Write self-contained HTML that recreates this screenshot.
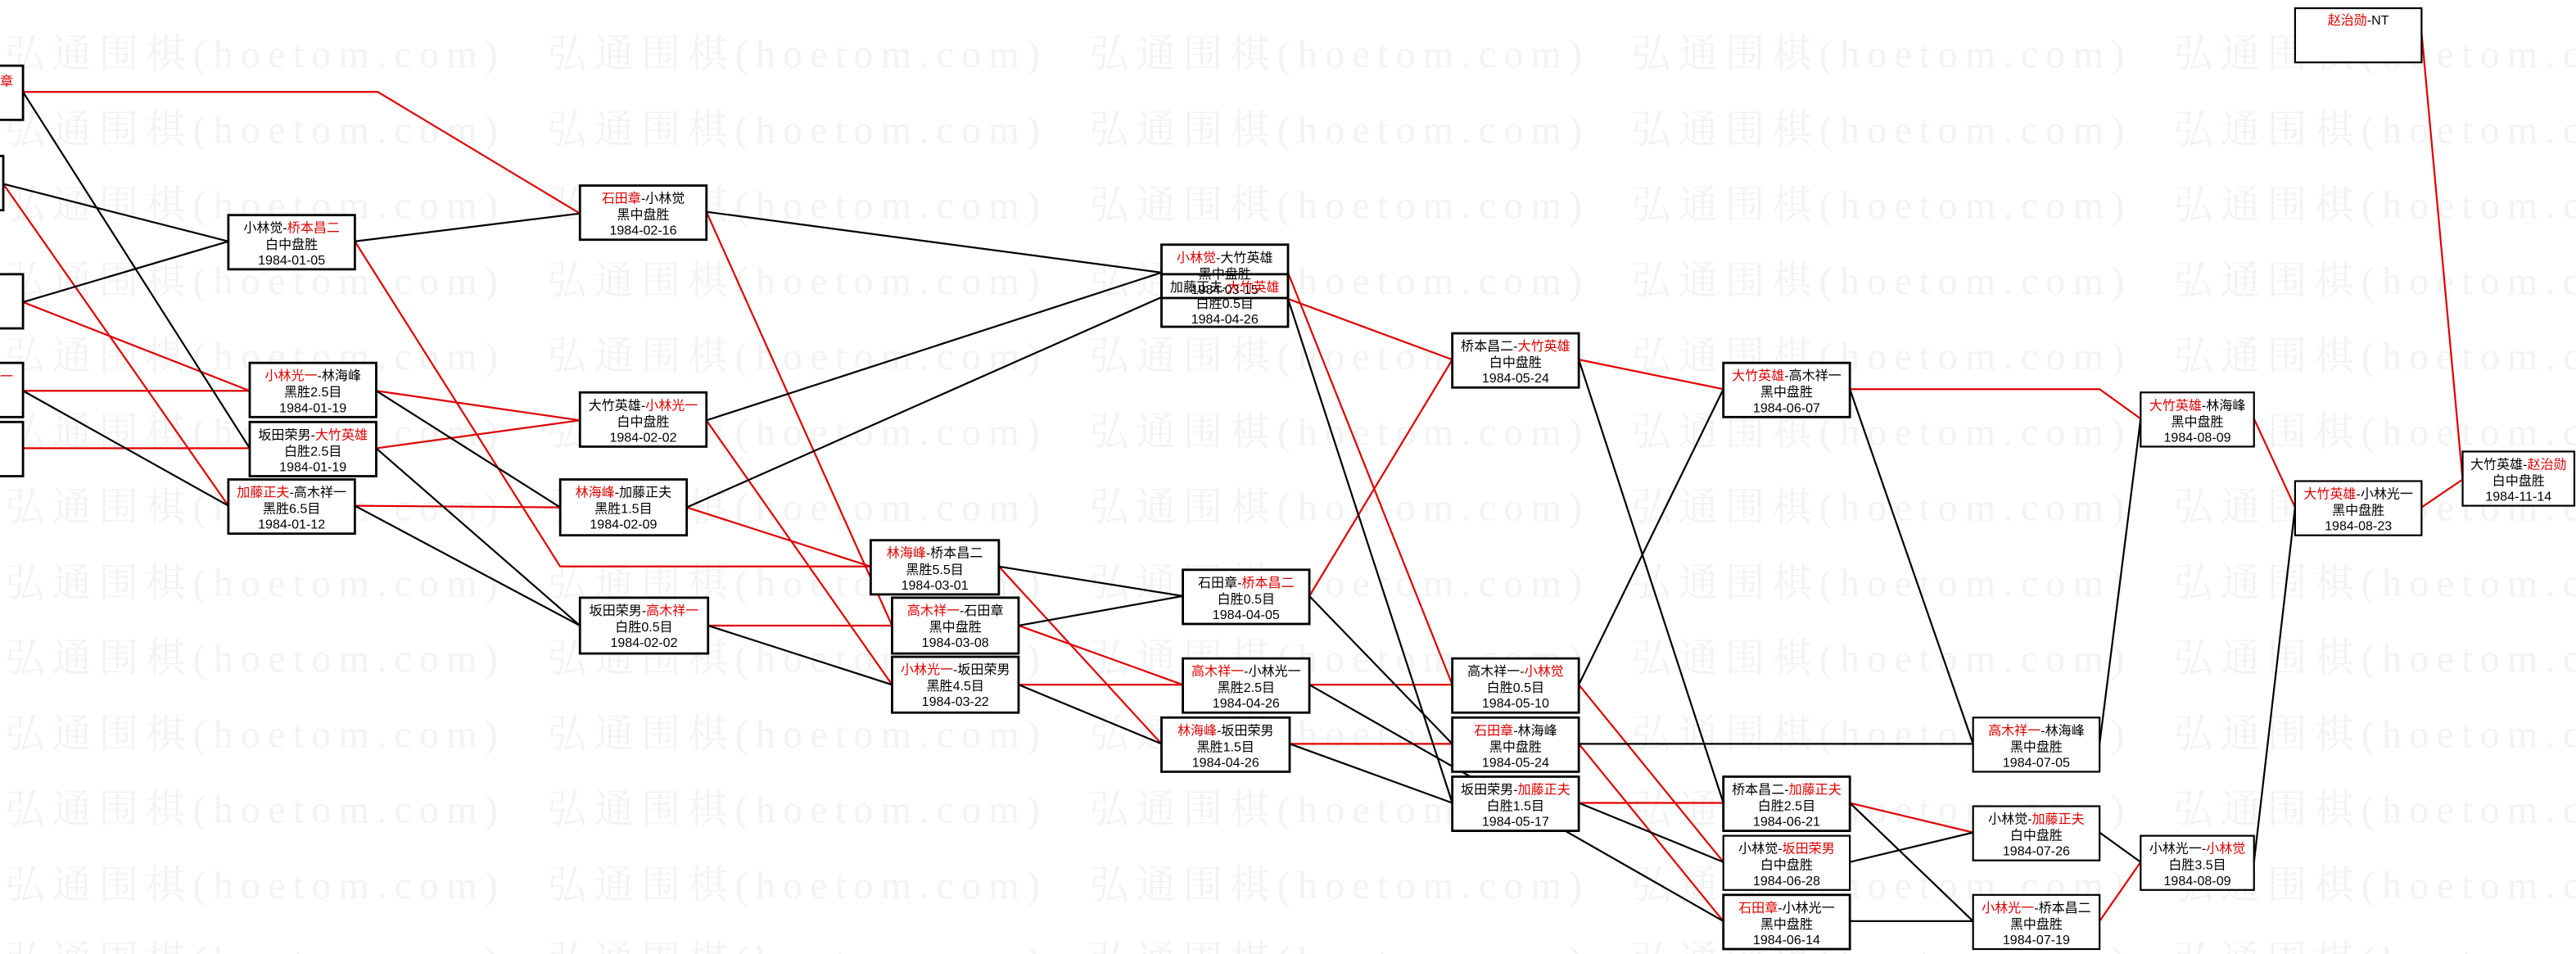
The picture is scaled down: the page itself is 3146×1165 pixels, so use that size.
<!DOCTYPE html>
<html><head><meta charset="utf-8"><style>
html,body{margin:0;padding:0;background:#fff;}
svg{display:block}
.w{font-family:"Liberation Serif","Noto Serif CJK SC",serif;font-size:24px;fill:#f3f3f3}
.t{font-family:"Liberation Sans","Noto Sans CJK SC",sans-serif;font-size:8px;fill:#000;text-anchor:middle}
.r{fill:#e00000}
.b{fill:#fff;stroke:#000;stroke-width:1.4}
.bn{fill:none;stroke:#000;stroke-width:1.4}
.lr{stroke:#e00000;stroke-width:1.1;fill:none}
.lb{stroke:#000;stroke-width:1.1;fill:none}
</style></head><body>
<svg width="3146" height="1165" viewBox="0 0 1568 581" preserveAspectRatio="none" xmlns="http://www.w3.org/2000/svg">
<rect x="0" y="0" width="1568" height="581" fill="#fff"/>
<g class="w">
<text x="3" y="41" textLength="300" lengthAdjust="spacing">弘通围棋(hoetom.com)</text><text x="333" y="41" textLength="300" lengthAdjust="spacing">弘通围棋(hoetom.com)</text><text x="663" y="41" textLength="300" lengthAdjust="spacing">弘通围棋(hoetom.com)</text><text x="993" y="41" textLength="300" lengthAdjust="spacing">弘通围棋(hoetom.com)</text><text x="1323" y="41" textLength="300" lengthAdjust="spacing">弘通围棋(hoetom.com)</text>
<text x="3" y="87" textLength="300" lengthAdjust="spacing">弘通围棋(hoetom.com)</text><text x="333" y="87" textLength="300" lengthAdjust="spacing">弘通围棋(hoetom.com)</text><text x="663" y="87" textLength="300" lengthAdjust="spacing">弘通围棋(hoetom.com)</text><text x="993" y="87" textLength="300" lengthAdjust="spacing">弘通围棋(hoetom.com)</text><text x="1323" y="87" textLength="300" lengthAdjust="spacing">弘通围棋(hoetom.com)</text>
<text x="3" y="133" textLength="300" lengthAdjust="spacing">弘通围棋(hoetom.com)</text><text x="333" y="133" textLength="300" lengthAdjust="spacing">弘通围棋(hoetom.com)</text><text x="663" y="133" textLength="300" lengthAdjust="spacing">弘通围棋(hoetom.com)</text><text x="993" y="133" textLength="300" lengthAdjust="spacing">弘通围棋(hoetom.com)</text><text x="1323" y="133" textLength="300" lengthAdjust="spacing">弘通围棋(hoetom.com)</text>
<text x="3" y="179" textLength="300" lengthAdjust="spacing">弘通围棋(hoetom.com)</text><text x="333" y="179" textLength="300" lengthAdjust="spacing">弘通围棋(hoetom.com)</text><text x="663" y="179" textLength="300" lengthAdjust="spacing">弘通围棋(hoetom.com)</text><text x="993" y="179" textLength="300" lengthAdjust="spacing">弘通围棋(hoetom.com)</text><text x="1323" y="179" textLength="300" lengthAdjust="spacing">弘通围棋(hoetom.com)</text>
<text x="3" y="225" textLength="300" lengthAdjust="spacing">弘通围棋(hoetom.com)</text><text x="333" y="225" textLength="300" lengthAdjust="spacing">弘通围棋(hoetom.com)</text><text x="663" y="225" textLength="300" lengthAdjust="spacing">弘通围棋(hoetom.com)</text><text x="993" y="225" textLength="300" lengthAdjust="spacing">弘通围棋(hoetom.com)</text><text x="1323" y="225" textLength="300" lengthAdjust="spacing">弘通围棋(hoetom.com)</text>
<text x="3" y="271" textLength="300" lengthAdjust="spacing">弘通围棋(hoetom.com)</text><text x="333" y="271" textLength="300" lengthAdjust="spacing">弘通围棋(hoetom.com)</text><text x="663" y="271" textLength="300" lengthAdjust="spacing">弘通围棋(hoetom.com)</text><text x="993" y="271" textLength="300" lengthAdjust="spacing">弘通围棋(hoetom.com)</text><text x="1323" y="271" textLength="300" lengthAdjust="spacing">弘通围棋(hoetom.com)</text>
<text x="3" y="317" textLength="300" lengthAdjust="spacing">弘通围棋(hoetom.com)</text><text x="333" y="317" textLength="300" lengthAdjust="spacing">弘通围棋(hoetom.com)</text><text x="663" y="317" textLength="300" lengthAdjust="spacing">弘通围棋(hoetom.com)</text><text x="993" y="317" textLength="300" lengthAdjust="spacing">弘通围棋(hoetom.com)</text><text x="1323" y="317" textLength="300" lengthAdjust="spacing">弘通围棋(hoetom.com)</text>
<text x="3" y="363" textLength="300" lengthAdjust="spacing">弘通围棋(hoetom.com)</text><text x="333" y="363" textLength="300" lengthAdjust="spacing">弘通围棋(hoetom.com)</text><text x="663" y="363" textLength="300" lengthAdjust="spacing">弘通围棋(hoetom.com)</text><text x="993" y="363" textLength="300" lengthAdjust="spacing">弘通围棋(hoetom.com)</text><text x="1323" y="363" textLength="300" lengthAdjust="spacing">弘通围棋(hoetom.com)</text>
<text x="3" y="409" textLength="300" lengthAdjust="spacing">弘通围棋(hoetom.com)</text><text x="333" y="409" textLength="300" lengthAdjust="spacing">弘通围棋(hoetom.com)</text><text x="663" y="409" textLength="300" lengthAdjust="spacing">弘通围棋(hoetom.com)</text><text x="993" y="409" textLength="300" lengthAdjust="spacing">弘通围棋(hoetom.com)</text><text x="1323" y="409" textLength="300" lengthAdjust="spacing">弘通围棋(hoetom.com)</text>
<text x="3" y="455" textLength="300" lengthAdjust="spacing">弘通围棋(hoetom.com)</text><text x="333" y="455" textLength="300" lengthAdjust="spacing">弘通围棋(hoetom.com)</text><text x="663" y="455" textLength="300" lengthAdjust="spacing">弘通围棋(hoetom.com)</text><text x="993" y="455" textLength="300" lengthAdjust="spacing">弘通围棋(hoetom.com)</text><text x="1323" y="455" textLength="300" lengthAdjust="spacing">弘通围棋(hoetom.com)</text>
<text x="3" y="501" textLength="300" lengthAdjust="spacing">弘通围棋(hoetom.com)</text><text x="333" y="501" textLength="300" lengthAdjust="spacing">弘通围棋(hoetom.com)</text><text x="663" y="501" textLength="300" lengthAdjust="spacing">弘通围棋(hoetom.com)</text><text x="993" y="501" textLength="300" lengthAdjust="spacing">弘通围棋(hoetom.com)</text><text x="1323" y="501" textLength="300" lengthAdjust="spacing">弘通围棋(hoetom.com)</text>
<text x="3" y="547" textLength="300" lengthAdjust="spacing">弘通围棋(hoetom.com)</text><text x="333" y="547" textLength="300" lengthAdjust="spacing">弘通围棋(hoetom.com)</text><text x="663" y="547" textLength="300" lengthAdjust="spacing">弘通围棋(hoetom.com)</text><text x="993" y="547" textLength="300" lengthAdjust="spacing">弘通围棋(hoetom.com)</text><text x="1323" y="547" textLength="300" lengthAdjust="spacing">弘通围棋(hoetom.com)</text>
<text x="3" y="593" textLength="300" lengthAdjust="spacing">弘通围棋(hoetom.com)</text><text x="333" y="593" textLength="300" lengthAdjust="spacing">弘通围棋(hoetom.com)</text><text x="663" y="593" textLength="300" lengthAdjust="spacing">弘通围棋(hoetom.com)</text><text x="993" y="593" textLength="300" lengthAdjust="spacing">弘通围棋(hoetom.com)</text><text x="1323" y="593" textLength="300" lengthAdjust="spacing">弘通围棋(hoetom.com)</text>
</g>
<g class="lr">
<polyline points="14,56 230,56 353,130"/>
<line x1="2" y1="112" x2="139" y2="308"/>
<line x1="14" y1="184" x2="152" y2="238"/>
<line x1="14" y1="238" x2="152" y2="238"/>
<line x1="14" y1="273" x2="152" y2="273"/>
<polyline points="216,147 341,345 530,345"/>
<line x1="229" y1="238" x2="353" y2="256"/>
<line x1="229" y1="273" x2="353" y2="256"/>
<line x1="216" y1="308" x2="341" y2="309"/>
<line x1="430" y1="129" x2="543" y2="381"/>
<line x1="430" y1="256" x2="543" y2="417"/>
<line x1="418" y1="309" x2="530" y2="345"/>
<line x1="431" y1="381" x2="543" y2="381"/>
<line x1="608" y1="345" x2="707" y2="453"/>
<line x1="620" y1="381" x2="720" y2="417"/>
<line x1="620" y1="417" x2="720" y2="417"/>
<line x1="784" y1="182" x2="884" y2="219"/>
<line x1="784" y1="166" x2="884" y2="417"/>
<line x1="797" y1="363" x2="884" y2="219"/>
<line x1="797" y1="417" x2="884" y2="417"/>
<line x1="785" y1="453" x2="884" y2="453"/>
<line x1="961" y1="219" x2="1049" y2="237"/>
<line x1="961" y1="417" x2="1049" y2="525"/>
<line x1="961" y1="453" x2="1049" y2="561"/>
<line x1="961" y1="489" x2="1049" y2="489"/>
<polyline points="1126,237 1278,237 1303,255"/>
<line x1="1126" y1="489" x2="1201" y2="507"/>
<line x1="1278" y1="561" x2="1303" y2="525"/>
<line x1="1372" y1="255" x2="1397" y2="309"/>
<line x1="1474" y1="309" x2="1499" y2="292"/>
<line x1="1474" y1="20" x2="1499" y2="292"/>
</g>
<g class="lb">
<line x1="14" y1="56" x2="152" y2="273"/>
<line x1="2" y1="112" x2="139" y2="147"/>
<line x1="14" y1="184" x2="139" y2="147"/>
<line x1="14" y1="238" x2="139" y2="308"/>
<line x1="216" y1="147" x2="353" y2="130"/>
<line x1="229" y1="238" x2="341" y2="309"/>
<line x1="229" y1="273" x2="353" y2="381"/>
<line x1="216" y1="308" x2="353" y2="381"/>
<line x1="430" y1="129" x2="707" y2="166"/>
<line x1="430" y1="256" x2="707" y2="166"/>
<polyline points="418,309 707,181 784,166"/>
<line x1="431" y1="381" x2="543" y2="417"/>
<line x1="608" y1="345" x2="720" y2="363"/>
<line x1="620" y1="381" x2="720" y2="363"/>
<line x1="620" y1="417" x2="707" y2="453"/>
<line x1="784" y1="182" x2="884" y2="489"/>
<line x1="797" y1="363" x2="884" y2="453"/>
<line x1="797" y1="417" x2="1049" y2="561"/>
<line x1="785" y1="453" x2="884" y2="489"/>
<line x1="961" y1="219" x2="1049" y2="489"/>
<line x1="961" y1="417" x2="1049" y2="237"/>
<line x1="961" y1="453" x2="1201" y2="453"/>
<line x1="961" y1="489" x2="1049" y2="525"/>
<line x1="1126" y1="237" x2="1201" y2="453"/>
<line x1="1126" y1="489" x2="1201" y2="561"/>
<line x1="1126" y1="525" x2="1201" y2="507"/>
<line x1="1126" y1="561" x2="1201" y2="561"/>
<line x1="1278" y1="453" x2="1303" y2="255"/>
<line x1="1278" y1="507" x2="1303" y2="525"/>
<line x1="1372" y1="525" x2="1397" y2="309"/>
</g>
<rect class="b" x="-60" y="40" width="74" height="33"/><text class="t r" x="8" y="52" style="text-anchor:end">石田章</text>
<rect class="b" x="-70" y="95" width="72" height="33"/>
<rect class="b" x="-60" y="167" width="74" height="33"/>
<rect class="b" x="-60" y="221" width="74" height="33"/><text class="t r" x="8" y="232" style="text-anchor:end">小林光一</text>
<rect class="b" x="-60" y="257" width="74" height="33"/>
<g>
<rect class="b" x="139" y="131" width="77" height="33"/><text class="t" x="177.5" y="141.5">小林觉-<tspan class="r">桥本昌二</tspan></text><text class="t" x="177.5" y="151.5">白中盘胜</text><text class="t" x="177.5" y="161">1984-01-05</text>
<rect class="b" x="152" y="221" width="77" height="33"/><text class="t" x="190.5" y="231.5"><tspan class="r">小林光一</tspan>-林海峰</text><text class="t" x="190.5" y="241.5">黑胜2.5目</text><text class="t" x="190.5" y="251">1984-01-19</text>
<rect class="b" x="152" y="257" width="77" height="33"/><text class="t" x="190.5" y="267.5">坂田荣男-<tspan class="r">大竹英雄</tspan></text><text class="t" x="190.5" y="277.5">白胜2.5目</text><text class="t" x="190.5" y="287">1984-01-19</text>
<rect class="b" x="139" y="292" width="77" height="33"/><text class="t" x="177.5" y="302.5"><tspan class="r">加藤正夫</tspan>-高木祥一</text><text class="t" x="177.5" y="312.5">黑胜6.5目</text><text class="t" x="177.5" y="322">1984-01-12</text>
<rect class="b" x="353" y="113" width="77" height="33"/><text class="t" x="391.5" y="123.5"><tspan class="r">石田章</tspan>-小林觉</text><text class="t" x="391.5" y="133.5">黑中盘胜</text><text class="t" x="391.5" y="143">1984-02-16</text>
<rect class="b" x="353" y="239" width="77" height="33"/><text class="t" x="391.5" y="249.5">大竹英雄-<tspan class="r">小林光一</tspan></text><text class="t" x="391.5" y="259.5">白中盘胜</text><text class="t" x="391.5" y="269">1984-02-02</text>
<rect class="b" x="341" y="292" width="77" height="34"/><text class="t" x="379.5" y="302.5"><tspan class="r">林海峰</tspan>-加藤正夫</text><text class="t" x="379.5" y="312.5">黑胜1.5目</text><text class="t" x="379.5" y="322">1984-02-09</text>
<rect class="b" x="353" y="364" width="78" height="34"/><text class="t" x="392" y="374.5">坂田荣男-<tspan class="r">高木祥一</tspan></text><text class="t" x="392" y="384.5">白胜0.5目</text><text class="t" x="392" y="394">1984-02-02</text>
<rect class="b" x="530" y="329" width="78" height="33"/><text class="t" x="569" y="339.5"><tspan class="r">林海峰</tspan>-桥本昌二</text><text class="t" x="569" y="349.5">黑胜5.5目</text><text class="t" x="569" y="359">1984-03-01</text>
<rect class="b" x="543" y="364" width="77" height="34"/><text class="t" x="581.5" y="374.5"><tspan class="r">高木祥一</tspan>-石田章</text><text class="t" x="581.5" y="384.5">黑中盘胜</text><text class="t" x="581.5" y="394">1984-03-08</text>
<rect class="b" x="543" y="400" width="77" height="34"/><text class="t" x="581.5" y="410.5"><tspan class="r">小林光一</tspan>-坂田荣男</text><text class="t" x="581.5" y="420.5">黑胜4.5目</text><text class="t" x="581.5" y="430">1984-03-22</text>
<rect class="b" x="707" y="149" width="77" height="32.5"/><text class="t" x="745.5" y="159.5"><tspan class="r">小林觉</tspan>-大竹英雄</text><text class="t" x="745.5" y="169.5">黑中盘胜</text><text class="t" x="745.5" y="179">1984-03-15</text>
<rect class="bn" x="707" y="167" width="77" height="32"/><text class="t" x="745.5" y="177.5">加藤正夫-<tspan class="r">大竹英雄</tspan></text><text class="t" x="745.5" y="187.5">白胜0.5目</text><text class="t" x="745.5" y="197">1984-04-26</text>
<rect class="b" x="720" y="347" width="77" height="33"/><text class="t" x="758.5" y="357.5">石田章-<tspan class="r">桥本昌二</tspan></text><text class="t" x="758.5" y="367.5">白胜0.5目</text><text class="t" x="758.5" y="377">1984-04-05</text>
<rect class="b" x="720" y="401" width="77" height="33"/><text class="t" x="758.5" y="411.5"><tspan class="r">高木祥一</tspan>-小林光一</text><text class="t" x="758.5" y="421.5">黑胜2.5目</text><text class="t" x="758.5" y="431">1984-04-26</text>
<rect class="b" x="707" y="437" width="78" height="33"/><text class="t" x="746" y="447.5"><tspan class="r">林海峰</tspan>-坂田荣男</text><text class="t" x="746" y="457.5">黑胜1.5目</text><text class="t" x="746" y="467">1984-04-26</text>
<rect class="b" x="884" y="203" width="77" height="33"/><text class="t" x="922.5" y="213.5">桥本昌二-<tspan class="r">大竹英雄</tspan></text><text class="t" x="922.5" y="223.5">白中盘胜</text><text class="t" x="922.5" y="233">1984-05-24</text>
<rect class="b" x="884" y="401" width="77" height="33"/><text class="t" x="922.5" y="411.5">高木祥一-<tspan class="r">小林觉</tspan></text><text class="t" x="922.5" y="421.5">白胜0.5目</text><text class="t" x="922.5" y="431">1984-05-10</text>
<rect class="b" x="884" y="437" width="77" height="33"/><text class="t" x="922.5" y="447.5"><tspan class="r">石田章</tspan>-林海峰</text><text class="t" x="922.5" y="457.5">黑中盘胜</text><text class="t" x="922.5" y="467">1984-05-24</text>
<rect class="b" x="884" y="473" width="77" height="33"/><text class="t" x="922.5" y="483.5">坂田荣男-<tspan class="r">加藤正夫</tspan></text><text class="t" x="922.5" y="493.5">白胜1.5目</text><text class="t" x="922.5" y="503">1984-05-17</text>
<rect class="b" x="1049" y="221" width="77" height="33"/><text class="t" x="1087.5" y="231.5"><tspan class="r">大竹英雄</tspan>-高木祥一</text><text class="t" x="1087.5" y="241.5">黑中盘胜</text><text class="t" x="1087.5" y="251">1984-06-07</text>
<rect class="b" x="1049" y="473" width="77" height="33"/><text class="t" x="1087.5" y="483.5">桥本昌二-<tspan class="r">加藤正夫</tspan></text><text class="t" x="1087.5" y="493.5">白胜2.5目</text><text class="t" x="1087.5" y="503">1984-06-21</text>
<rect class="b" x="1049" y="509" width="77" height="33" style="stroke-width:1.1"/><text class="t" x="1087.5" y="519.5">小林觉-<tspan class="r">坂田荣男</tspan></text><text class="t" x="1087.5" y="529.5">白中盘胜</text><text class="t" x="1087.5" y="539">1984-06-28</text>
<rect class="b" x="1049" y="545" width="77" height="33"/><text class="t" x="1087.5" y="555.5"><tspan class="r">石田章</tspan>-小林光一</text><text class="t" x="1087.5" y="565.5">黑中盘胜</text><text class="t" x="1087.5" y="575">1984-06-14</text>
<rect class="b" x="1201" y="437" width="77" height="33" style="stroke-width:1.1"/><text class="t" x="1239.5" y="447.5"><tspan class="r">高木祥一</tspan>-林海峰</text><text class="t" x="1239.5" y="457.5">黑中盘胜</text><text class="t" x="1239.5" y="467">1984-07-05</text>
<rect class="b" x="1201" y="491" width="77" height="33" style="stroke-width:1.1"/><text class="t" x="1239.5" y="501.5">小林觉-<tspan class="r">加藤正夫</tspan></text><text class="t" x="1239.5" y="511.5">白中盘胜</text><text class="t" x="1239.5" y="521">1984-07-26</text>
<rect class="b" x="1201" y="545" width="77" height="33" style="stroke-width:1.1"/><text class="t" x="1239.5" y="555.5"><tspan class="r">小林光一</tspan>-桥本昌二</text><text class="t" x="1239.5" y="565.5">黑中盘胜</text><text class="t" x="1239.5" y="575">1984-07-19</text>
<rect class="b" x="1303" y="239" width="69" height="33" style="stroke-width:1.1"/><text class="t" x="1337.5" y="249.5"><tspan class="r">大竹英雄</tspan>-林海峰</text><text class="t" x="1337.5" y="259.5">黑中盘胜</text><text class="t" x="1337.5" y="269">1984-08-09</text>
<rect class="b" x="1303" y="509" width="69" height="33" style="stroke-width:1.1"/><text class="t" x="1337.5" y="519.5">小林光一-<tspan class="r">小林觉</tspan></text><text class="t" x="1337.5" y="529.5">白胜3.5目</text><text class="t" x="1337.5" y="539">1984-08-09</text>
<rect class="b" x="1397" y="293" width="77" height="33" style="stroke-width:1.1"/><text class="t" x="1435.5" y="303.5"><tspan class="r">大竹英雄</tspan>-小林光一</text><text class="t" x="1435.5" y="313.5">黑中盘胜</text><text class="t" x="1435.5" y="323">1984-08-23</text>
<rect class="b" x="1499" y="275" width="68" height="33" style="stroke-width:1.1"/><text class="t" x="1533" y="285.5">大竹英雄-<tspan class="r">赵治勋</tspan></text><text class="t" x="1533" y="295.5">白中盘胜</text><text class="t" x="1533" y="305">1984-11-14</text>
<rect class="b" x="1397" y="5" width="77" height="33" style="stroke-width:1.1"/><text class="t" x="1435.5" y="15"><tspan class="r">赵治勋</tspan>-NT</text>
</g>
</svg>
</body></html>
